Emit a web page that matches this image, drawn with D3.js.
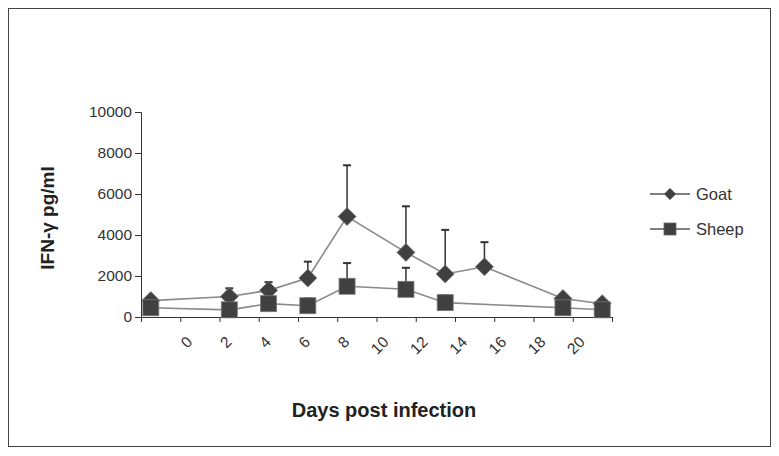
<!DOCTYPE html>
<html>
<head>
<meta charset="utf-8">
<script src="https://cdn.jsdelivr.net/npm/d3@7"></script>
<style>
  body { margin: 0; background: #fff; }
  svg { font-family: "Liberation Sans", Arial, sans-serif; }
</style>
</head>
<body>
<script>
  const width = 779;
  const height = 456;

  // days on the axis scale (points sit between the even-day ticks)
  const goatDays = [-1.5, 2.5, 4.5, 6.5, 8.5, 11.5, 13.5, 15.5, 19.5, 21.5];
  const goatMean = [800, 1000, 1300, 1900, 4900, 3150, 2100, 2450, 900, 650];
  const goatErr = [0, 400, 400, 800, 2500, 2250, 2150, 1200, 0, 0];

  const sheepDays = [-1.5, 2.5, 4.5, 6.5, 8.5, 11.5, 13.5, 19.5, 21.5];
  const sheepMean = [450, 350, 650, 550, 1500, 1350, 700, 450, 350];
  const sheepErr = [0, 0, 0, 350, 1130, 1050, 350, 0, 0];

  const xTicks = [-2, 0, 2, 4, 6, 8, 10, 12, 14, 16, 18, 20, 22];
  const xLabels = [0, 2, 4, 6, 8, 10, 12, 14, 16, 18, 20];
  const yTicks = [0, 2000, 4000, 6000, 8000, 10000];

  const x = d3.scaleLinear().domain([-2, 22]).range([141, 612]);
  const y = d3.scaleLinear().domain([0, 10000]).range([317, 112]);

  const svg = d3.select('body')
    .append('svg')
      .attr('width', width)
      .attr('height', height);

  // outer frame
  svg.append('rect')
    .attr('x', 8.5).attr('y', 8.5)
    .attr('width', 762).attr('height', 438)
    .attr('fill', 'none')
    .attr('stroke', '#444')
    .attr('stroke-width', 1);

  // y axis
  const yAxis = svg.append('g')
    .attr('transform', 'translate(141,0)')
    .call(d3.axisLeft(y).tickValues(yTicks).tickSize(6).tickPadding(3).tickFormat(d3.format('d')));
  yAxis.select('.domain').attr('stroke', '#333');
  yAxis.selectAll('.tick line').attr('stroke', '#333');
  yAxis.selectAll('text')
    .attr('font-size', 15.5)
    .attr('fill', '#333')
    .attr('font-family', '"Liberation Sans", Arial, sans-serif');

  // x axis (ticks only, labels drawn separately)
  const xAxis = svg.append('g')
    .attr('transform', 'translate(0,317)')
    .call(d3.axisBottom(x).tickValues(xTicks).tickSize(5).tickFormat(''));
  xAxis.select('.domain').attr('stroke', '#333');
  xAxis.selectAll('.tick line').attr('stroke', '#333');

  svg.append('g')
    .selectAll('text')
    .data(xLabels)
    .enter()
    .append('text')
      .attr('transform', d => `translate(${x(d) + 13},343) rotate(-45)`)
      .attr('text-anchor', 'end')
      .attr('font-size', 15.5)
      .attr('fill', '#333')
      .text(d => d);

  const line = d3.line()
    .x(d => x(d.day))
    .y(d => y(d.mean));

  const goat = goatDays.map((d, i) => ({ day: d, mean: goatMean[i], err: goatErr[i] }));
  const sheep = sheepDays.map((d, i) => ({ day: d, mean: sheepMean[i], err: sheepErr[i] }));

  const drawErr = (data) => {
    const g = svg.append('g').attr('stroke', '#333').attr('stroke-width', 1.5);
    data.filter(d => d.err > 0).forEach(d => {
      g.append('line')
        .attr('x1', x(d.day)).attr('x2', x(d.day))
        .attr('y1', y(d.mean)).attr('y2', y(d.mean + d.err));
      g.append('line')
        .attr('x1', x(d.day) - 4).attr('x2', x(d.day) + 4)
        .attr('y1', y(d.mean + d.err)).attr('y2', y(d.mean + d.err))
        .attr('stroke-width', 2);
    });
  };

  drawErr(goat);
  drawErr(sheep);

  svg.append('path')
    .datum(goat)
    .attr('d', line)
    .attr('fill', 'none')
    .attr('stroke', '#8a8a8a')
    .attr('stroke-width', 1.6);

  svg.append('path')
    .datum(sheep)
    .attr('d', line)
    .attr('fill', 'none')
    .attr('stroke', '#8a8a8a')
    .attr('stroke-width', 1.6);

  const diamond = (s) => `M0,${-s}L${s},0L0,${s}L${-s},0Z`;

  svg.append('g')
    .selectAll('path')
    .data(goat)
    .enter()
    .append('path')
      .attr('d', diamond(9))
      .attr('transform', d => `translate(${x(d.day)},${y(d.mean)})`)
      .attr('fill', '#404040')
      .attr('stroke', '#777')
      .attr('stroke-width', 0.8);

  svg.append('g')
    .selectAll('rect')
    .data(sheep)
    .enter()
    .append('rect')
      .attr('x', d => x(d.day) - 8)
      .attr('y', d => y(d.mean) - 8)
      .attr('width', 16)
      .attr('height', 16)
      .attr('fill', '#404040')
      .attr('stroke', '#777')
      .attr('stroke-width', 0.8);

  // legend
  const legend = svg.append('g');
  legend.append('line')
    .attr('x1', 650).attr('x2', 690).attr('y1', 194).attr('y2', 194)
    .attr('stroke', '#555').attr('stroke-width', 1.5);
  legend.append('path')
    .attr('d', diamond(6))
    .attr('transform', 'translate(670,194)')
    .attr('fill', '#404040');
  legend.append('text')
    .attr('x', 696).attr('y', 200)
    .attr('font-size', 16.5).attr('fill', '#333')
    .text('Goat');

  legend.append('line')
    .attr('x1', 650).attr('x2', 690).attr('y1', 229).attr('y2', 229)
    .attr('stroke', '#555').attr('stroke-width', 1.5);
  legend.append('rect')
    .attr('x', 664).attr('y', 223).attr('width', 12).attr('height', 12)
    .attr('fill', '#404040').attr('stroke', '#666').attr('stroke-width', 0.8);
  legend.append('text')
    .attr('x', 696).attr('y', 235)
    .attr('font-size', 16.5).attr('fill', '#333')
    .text('Sheep');

  // axis titles
  svg.append('text')
    .attr('transform', 'translate(54,218) rotate(-90)')
    .attr('text-anchor', 'middle')
    .attr('font-size', 19)
    .attr('font-weight', 'bold')
    .attr('fill', '#222')
    .text('IFN-γ pg/ml');

  svg.append('text')
    .attr('x', 384).attr('y', 417)
    .attr('text-anchor', 'middle')
    .attr('font-size', 20)
    .attr('font-weight', 'bold')
    .attr('fill', '#222')
    .text('Days post infection');
</script>
</body>
</html>
